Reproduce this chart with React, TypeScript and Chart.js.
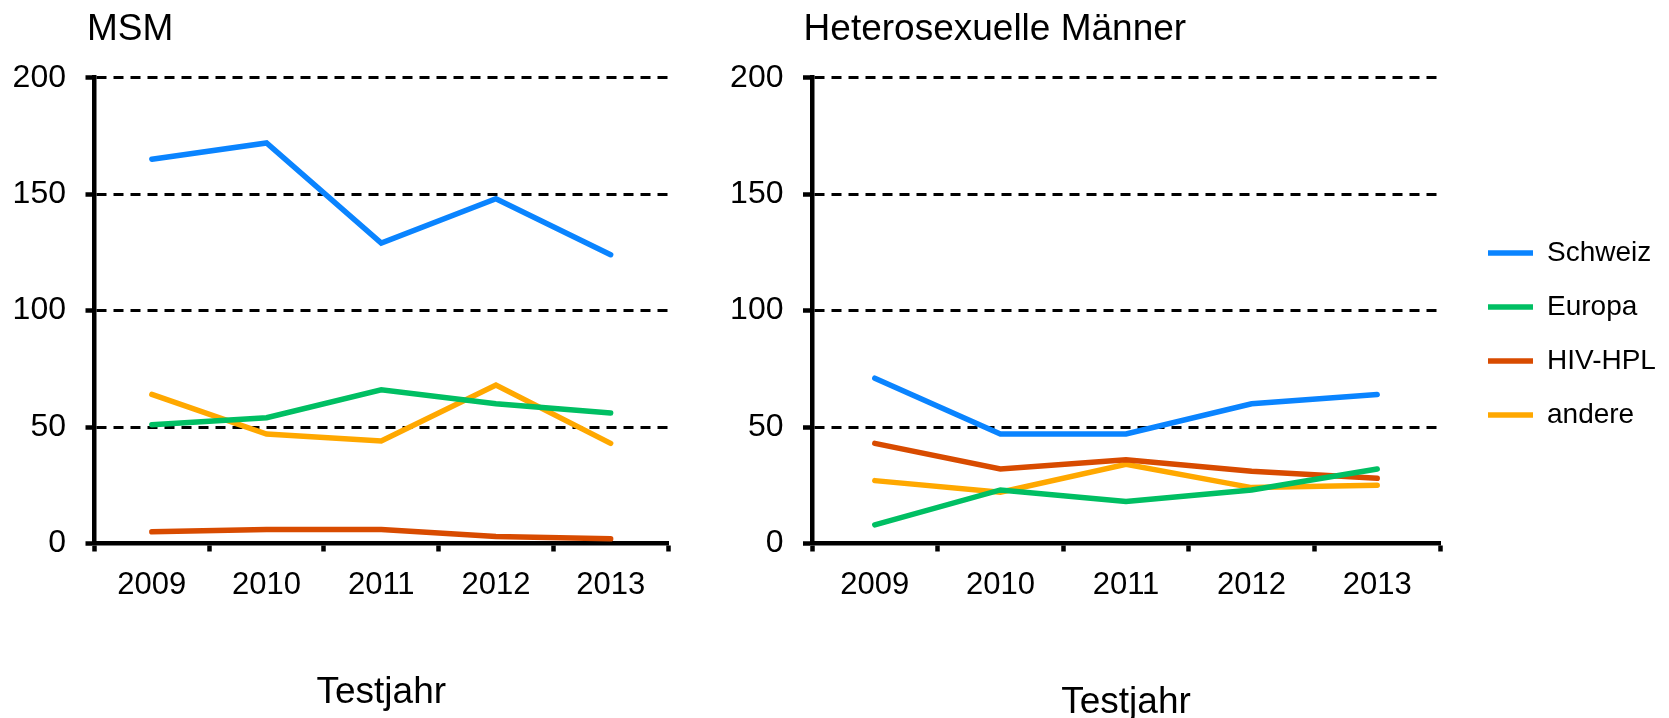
import React, { useEffect, useRef } from 'react';
import { Chart, registerables } from 'chart.js';

Chart.register(...registerables);

// ---------- data ----------
const YEARS = ['2009', '2010', '2011', '2012', '2013'];
const SERIES_NAMES = ['Schweiz', 'Europa', 'HIV-HPL', 'andere'];
const SERIES_COLORS = ['#0a84ff', '#00bf63', '#d84b00', '#ffa800'];

const MSM_SCHWEIZ = [165, 172, 129, 148, 124];
const MSM_EUROPA = [51, 54, 66, 60, 56];
const MSM_HIVHPL = [5, 6, 6, 3, 2];
const MSM_ANDERE = [64, 47, 44, 68, 43];

const HET_SCHWEIZ = [71, 47, 47, 60, 64];
const HET_EUROPA = [8, 23, 18, 23, 32];
const HET_HIVHPL = [43, 32, 36, 31, 28];
const HET_ANDERE = [27, 22, 34, 24, 25];

const Y_MIN = 0;
const Y_MAX = 200;
const Y_STEP = 50;

const TITLE_LEFT = 'MSM';
const TITLE_RIGHT = 'Heterosexuelle Männer';
const X_TITLE = 'Testjahr';

const FONT = "'Liberation Sans', Arial, Helvetica, sans-serif";

type Params = {
  title: string;
  titleX: number;
  values: number[][];
  showLegend: boolean;
  yWidth: number;
  padding: { left: number; right: number; top: number; bottom: number };
  xTitleBottom: number;
};

// moves the chart title horizontally to a given x inside the canvas
const titleShift = {
  id: 'titleShift',
  afterLayout(chart: any, _args: any, opts: any) {
    const t = chart.titleBlock;
    if (t && typeof opts.x === 'number') {
      const w = t.right - t.left;
      t.left = opts.x;
      t.right = opts.x + w;
    }
  },
};

function buildConfig(p: Params): any {
  const datasets = SERIES_NAMES.map((name, i) => ({
    label: name,
    data: p.values[i],
    borderColor: SERIES_COLORS[i],
    backgroundColor: SERIES_COLORS[i],
    borderWidth: 5.5,
    borderCapStyle: 'round',
    borderJoinStyle: 'miter',
    pointRadius: 0,
    pointHoverRadius: 0,
    tension: 0,
    fill: false,
  }));

  const scales: any = {
    x: {
      type: 'category',
      offset: true,
      grid: {
        display: true,
        offset: true,
        drawOnChartArea: false,
        drawTicks: true,
        tickLength: 8,
        tickWidth: 4.5,
        tickColor: '#000',
        color: '#000',
      },
      border: { display: true, color: '#000', width: 4.5 },
      ticks: {
        color: '#000',
        font: { family: FONT, size: 31, lineHeight: 1.2 },
        padding: 15.7,
        maxRotation: 0,
        autoSkip: false,
      },
      title: {
        display: true,
        text: X_TITLE,
        color: '#000',
        font: { family: FONT, size: 37, lineHeight: 0.8 },
        padding: { top: 0, bottom: p.xTitleBottom },
      },
      afterFit: (s: any) => {
        s.height = 174.5;
      },
    },
    y: {
      type: 'linear',
      min: Y_MIN,
      max: Y_MAX,
      grid: {
        color: '#000',
        lineWidth: 3,
        drawTicks: true,
        tickLength: 9,
        tickWidth: 4.5,
        tickColor: '#000',
      },
      border: { display: true, color: '#000', width: 4.5, dash: [10, 7] },
      ticks: {
        stepSize: Y_STEP,
        color: '#000',
        font: { family: FONT, size: 32, lineHeight: 1.2 },
        padding: 19.5,
      },
      afterFit: (s: any) => {
        s.width = p.yWidth;
      },
    },
  };

  if (p.showLegend) {
    scales.yPad = {
      type: 'linear',
      position: 'right',
      display: true,
      grid: { display: false, drawTicks: false },
      border: { display: false },
      ticks: { display: false },
      afterFit: (s: any) => {
        s.width = 22;
      },
    };
  }

  return {
    type: 'line',
    data: { labels: YEARS, datasets },
    plugins: [titleShift],
    options: {
      responsive: false,
      animation: false,
      devicePixelRatio: 1,
      events: [],
      layout: { padding: p.padding },
      scales,
      plugins: {
        titleShift: { x: p.titleX },
        tooltip: { enabled: false },
        title: {
          display: true,
          text: p.title,
          align: 'start',
          color: '#000',
          font: { family: FONT, size: 37, lineHeight: 1.2, weight: 'normal' },
          padding: { top: 8, bottom: 25.3 },
        },
        legend: p.showLegend
          ? {
              display: true,
              position: 'right',
              align: 'center',
              fullSize: false,
              maxWidth: 200,
              title: {
                display: true,
                text: '',
                font: { family: FONT, size: 10, lineHeight: 1.2 },
                padding: 17.4,
              },
              labels: {
                usePointStyle: true,
                pointStyle: 'line',
                pointStyleWidth: 45,
                color: '#000',
                font: { family: FONT, size: 28, lineHeight: 1.2 },
                padding: 26,
              },
            }
          : { display: false },
      },
    },
  };
}

function ChartCanvas({ config, left, width }: { config: any; left: number; width: number }) {
  const ref = useRef<HTMLCanvasElement | null>(null);
  useEffect(() => {
    if (!ref.current) return;
    const chart = new Chart(ref.current, config);
    return () => chart.destroy();
  }, []);
  return (
    <canvas
      ref={ref}
      width={width}
      height={718}
      style={{ position: 'absolute', left, top: 0, width, height: 718, display: 'block' }}
    />
  );
}

export default function App() {
  const leftConfig = buildConfig({
    title: TITLE_LEFT,
    titleX: 87,
    values: [MSM_SCHWEIZ, MSM_EUROPA, MSM_HIVHPL, MSM_ANDERE],
    showLegend: false,
    yWidth: 94.5,
    padding: { left: 0, right: 32, top: 0, bottom: 0 },
    xTitleBottom: 10.8,
  });
  const rightConfig = buildConfig({
    title: TITLE_RIGHT,
    titleX: 103.6,
    values: [HET_SCHWEIZ, HET_EUROPA, HET_HIVHPL, HET_ANDERE],
    showLegend: true,
    yWidth: 112,
    padding: { left: 0, right: 7, top: 0, bottom: 0 },
    xTitleBottom: 0.3,
  });
  return (
    <div
      style={{
        position: 'absolute',
        left: 0,
        top: 0,
        width: 1669,
        height: 718,
        background: '#fff',
        overflow: 'hidden',
      }}
    >
      <ChartCanvas config={leftConfig} left={0} width={700} />
      <ChartCanvas config={rightConfig} left={700} width={969} />
    </div>
  );
}
